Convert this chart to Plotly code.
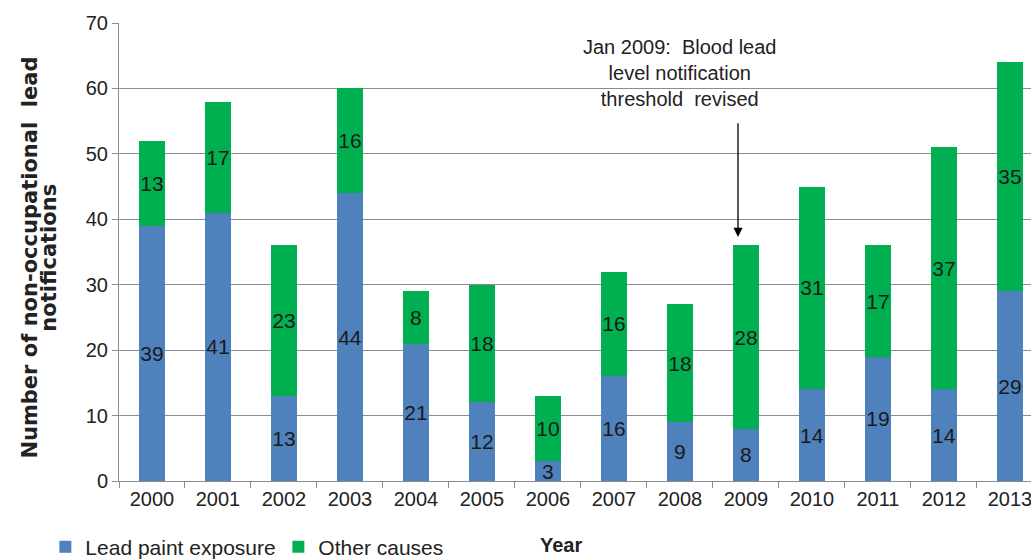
import plotly.graph_objects as go

years = ["2000", "2001", "2002", "2003", "2004", "2005", "2006",
         "2007", "2008", "2009", "2010", "2011", "2012", "2013"]
lead_paint = [39, 41, 13, 44, 21, 12, 3, 16, 9, 8, 14, 19, 14, 29]
other_causes = [13, 17, 23, 16, 8, 18, 10, 16, 18, 28, 31, 17, 37, 35]

BLUE = "#4F81BD"
GREEN = "#00B050"
FONT = "Liberation Sans, Arial, sans-serif"
TXT = "#222222"

fig = go.Figure()
for vals, name, col in [(lead_paint, "Lead paint exposure", BLUE),
                        (other_causes, "Other causes", GREEN)]:
    fig.add_trace(go.Bar(
        x=years, y=vals, name=name,
        marker=dict(color=col, line=dict(width=0)),
        text=[str(v) for v in vals], textposition="inside",
        insidetextanchor="middle", constraintext="none", textangle=0,
        textfont=dict(size=21, color="#1a1a1a", family=FONT),
    ))

fig.update_layout(
    barmode="stack",
    bargap=0.61,
    width=1031, height=559,
    autosize=False,
    margin=dict(l=119, r=0, t=23, b=78, autoexpand=False),
    paper_bgcolor="white",
    plot_bgcolor="white",
    font=dict(family=FONT, size=20, color=TXT),
    showlegend=True,
    legend=dict(
        orientation="h", xref="container", yref="container",
        x=0.044, y=0.058, xanchor="left", yanchor="top",
        font=dict(size=21, family=FONT, color=TXT),
        traceorder="normal",
        entrywidth=188, entrywidthmode="pixels",
        bgcolor="rgba(0,0,0,0)",
    ),
)

fig.update_xaxes(
    type="category",
    range=[-0.5, 13.32],
    automargin=False,
    showline=True, linecolor="#8c8c8c", linewidth=1,
    ticks="outside", tickson="boundaries", ticklen=6, tickcolor="#8c8c8c",
    tickfont=dict(size=20, family=FONT, color=TXT),
    showgrid=False,
)
fig.update_yaxes(
    range=[0, 70], dtick=10,
    automargin=False,
    showline=True, linecolor="#8c8c8c", linewidth=1,
    ticks="outside", ticklen=6, tickcolor="#8c8c8c",
    tickfont=dict(size=20, family=FONT, color=TXT),
    showgrid=True, gridcolor="#8c8c8c", gridwidth=1,
    zeroline=False,
)

# Axis titles (two separate lines for tight spacing)
TFONT = "DejaVu Sans, Liberation Sans, sans-serif"
fig.add_annotation(
    text="<b>Number of non-occupational  lead</b>",
    xref="paper", yref="paper", x=-0.098, y=0.487,
    textangle=-90, showarrow=False,
    font=dict(size=21, family=TFONT, color=TXT),
    xanchor="center", yanchor="middle",
)
fig.add_annotation(
    text="<b>notifications</b>",
    xref="paper", yref="paper", x=-0.077, y=0.487,
    textangle=-90, showarrow=False,
    font=dict(size=21, family=TFONT, color=TXT),
    xanchor="center", yanchor="middle",
)
fig.add_annotation(
    text="<b>Year</b>",
    xref="paper", yref="paper", x=0.485, y=-0.14,
    showarrow=False, xanchor="center", yanchor="middle",
    font=dict(size=20, family=FONT, color=TXT),
)

# Callout
fig.add_annotation(
    text="Jan 2009:  Blood lead<br>level notification<br>threshold  revised",
    xref="x", yref="y", x=8.0, y=62.4,
    showarrow=False, xanchor="center", yanchor="middle",
    font=dict(size=20, family=FONT, color=TXT),
)
fig.add_annotation(
    text="", xref="x", yref="y", axref="x", ayref="y",
    x=8.88, y=37.3, ax=8.88, ay=54.9,
    showarrow=True, arrowhead=2, arrowsize=1.4, arrowwidth=1.3,
    arrowcolor="#000000",
)

fig.write_html(
    "out.html",
    config={"displayModeBar": False},
    post_script="document.body.style.margin='0';document.body.style.overflow='hidden';",
)
